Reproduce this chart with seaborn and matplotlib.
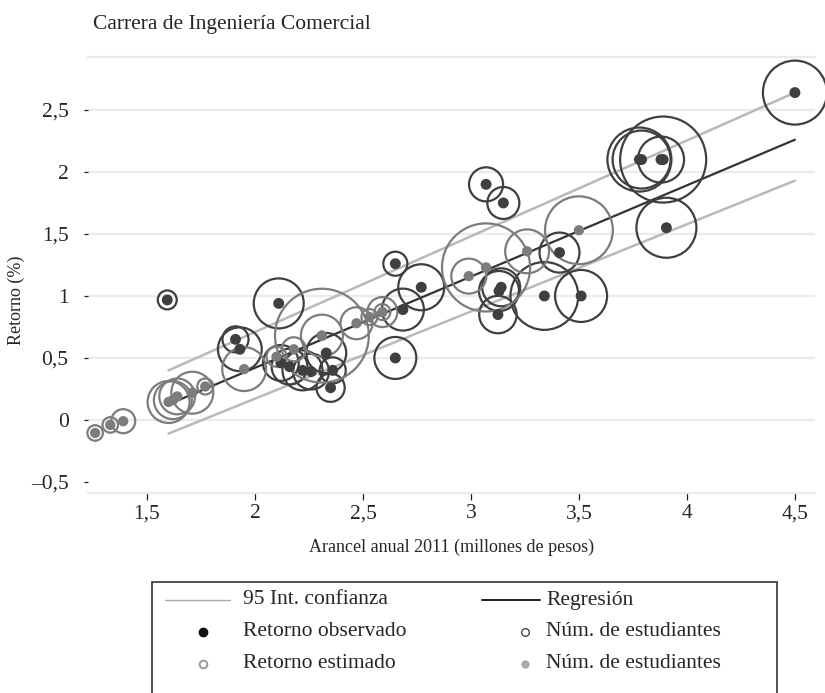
import numpy as np
import pandas as pd
import seaborn as sns
import matplotlib.pyplot as plt
from matplotlib.lines import Line2D
from matplotlib.patches import Rectangle

# Retorno observado (punto oscuro + circulo segun numero de estudiantes)
obs_arancel = [1.594, 1.91, 1.93, 2.11, 2.12, 2.16, 2.22, 2.26, 2.33, 2.36, 2.35,
               2.65, 2.65, 2.685, 2.77, 3.07, 3.15, 3.13, 3.14, 3.125, 3.34, 3.41,
               3.51, 3.78, 3.79, 3.88, 3.89, 3.905, 4.5]
obs_retorno = [0.968, 0.65, 0.57, 0.94, 0.46, 0.43, 0.40, 0.39, 0.54, 0.40, 0.26,
               1.26, 0.50, 0.89, 1.07, 1.90, 1.75, 1.04, 1.07, 0.85, 1.00, 1.35,
               1.00, 2.10, 2.10, 2.10, 2.10, 1.55, 2.64]
obs_estudiantes = [90, 170, 480, 625, 320, 320, 400, 320, 400, 170, 200,
                   145, 440, 440, 530, 290, 256, 400, 360, 350, 1150, 400,
                   676, 1024, 840, 530, 1850, 900, 1024]

# Retorno estimado (sobre la recta de regresion)
est_arancel = [1.26, 1.33, 1.39, 1.60, 1.62, 1.64, 1.71, 1.77, 1.95, 2.10, 2.18,
               2.31, 2.31, 2.47, 2.53, 2.59, 2.59, 2.99, 3.07, 3.26, 3.50]
est_retorno = [-0.105, -0.04, -0.01, 0.145, 0.16, 0.19, 0.22, 0.27, 0.41, 0.51, 0.57,
               0.68, 0.68, 0.78, 0.83, 0.87, 0.87, 1.16, 1.23, 1.36, 1.53]
est_estudiantes = [60, 60, 144, 440, 360, 320, 440, 64, 480, 100, 144,
                   2200, 440, 256, 64, 225, 64, 306, 1940, 480, 1150]

# Recta de regresion e intervalo de confianza al 95%
reg_x = [1.6, 4.5]
reg_y = [0.126, 2.26]
ic_x = [1.6, 4.5]
ic_sup = [0.40, 2.64]
ic_inf = [-0.11, 1.93]

y_ticks = [-0.5, 0, 0.5, 1, 1.5, 2, 2.5]
y_labels = ["\u20130,5", "0", "0,5", "1", "1,5", "2", "2,5"]
x_ticks = [1.5, 2, 2.5, 3, 3.5, 4, 4.5]
x_labels = ["1,5", "2", "2,5", "3", "3,5", "4", "4,5"]
leyenda = ["95 Int. confianza", "Regresión", "Retorno observado",
           "Núm. de estudiantes", "Retorno estimado", "Núm. de estudiantes"]

obs = pd.DataFrame({"arancel": obs_arancel, "retorno": obs_retorno, "est": obs_estudiantes})
est = pd.DataFrame({"arancel": est_arancel, "retorno": est_retorno, "est": est_estudiantes})

sns.set_style("white")
plt.rcParams["font.family"] = ["Liberation Serif", "DejaVu Serif"]

W, H = 825, 693
fig = plt.figure(figsize=(W / 100, H / 100), dpi=100)
ax = fig.add_axes([88 / W, 1 - 493 / H, (815 - 88) / W, (493 - 57) / H])

oscuro = "#3f3f3f"
gris = "#7c7c7c"
gris_ic = "#b9b9b9"
rejilla = "#ebebeb"
fs_grande = 15.5
fs_eje = 13

for yv in y_ticks[1:]:
    ax.axhline(yv, color=rejilla, lw=1.6, zorder=0)

# escala de area: area del circulo proporcional al numero de estudiantes
max_est = 2500
k = (2 * 0.72) ** 2

ax.plot(ic_x, ic_sup, color=gris_ic, lw=1.8, zorder=1)
ax.plot(ic_x, ic_inf, color=gris_ic, lw=1.8, zorder=1)
sns.lineplot(x=reg_x, y=reg_y, color="#333333", lw=1.6, ax=ax, zorder=2)

sns.scatterplot(data=obs, x="arancel", y="retorno", size="est", sizes=(0, k * max_est),
                size_norm=(0, max_est), facecolor="none", edgecolor=oscuro,
                linewidth=1.6, legend=False, ax=ax, zorder=3, clip_on=False)
sns.scatterplot(data=est, x="arancel", y="retorno", size="est", sizes=(0, k * max_est),
                size_norm=(0, max_est), facecolor="none", edgecolor=gris,
                linewidth=1.6, legend=False, ax=ax, zorder=3, clip_on=False)
sns.scatterplot(data=obs, x="arancel", y="retorno", s=62, color=oscuro,
                edgecolor="none", legend=False, ax=ax, zorder=4)
sns.scatterplot(data=est, x="arancel", y="retorno", s=55, color=gris,
                edgecolor="none", legend=False, ax=ax, zorder=4)

ax.set_xlim(1.227, 4.593)
ax.set_ylim(-0.589, 2.927)
ax.set_xticks(x_ticks)
ax.set_xticklabels(x_labels, fontsize=fs_grande)
ax.set_yticks(y_ticks)
ax.set_yticklabels(y_labels, fontsize=fs_grande)
ax.tick_params(axis="x", direction="out", length=5, width=0.9, color="#222222", pad=3, bottom=True)
ax.tick_params(axis="y", direction="out", length=3, width=0.9, color="#222222", pad=11, left=True)
ax.set_xlabel("")
ax.set_ylabel("")
for lado in ["left", "right"]:
    ax.spines[lado].set_visible(False)
for lado in ["top", "bottom"]:
    ax.spines[lado].set_color(rejilla)
    ax.spines[lado].set_linewidth(1.6)

def fx(px):
    return px / W

def fy(py):
    return 1 - py / H

fig.text(fx(93), fy(24), "Carrera de Ingeniería Comercial", fontsize=fs_grande, ha="left", va="center")
fig.text(fx(452), fy(547), "Arancel anual 2011 (millones de pesos)", fontsize=fs_eje,
         ha="center", va="center")
fig.text(fx(16), fy(300), "Retorno (%)", fontsize=fs_eje, rotation=90, ha="center", va="center")

# leyenda dibujada a mano
fig.add_artist(Rectangle((fx(152), fy(705)), fx(777) - fx(152), fy(582) - fy(705),
                         transform=fig.transFigure, fill=False, edgecolor="#333333", lw=1.2))
filas = [fy(600), fy(632), fy(664)]
fig.add_artist(Line2D([fx(165), fx(230)], [filas[0]] * 2, transform=fig.transFigure,
                      color="#a8a8a8", lw=1.0))
fig.add_artist(Line2D([fx(482), fx(540)], [filas[0]] * 2, transform=fig.transFigure,
                      color="#1e1e1e", lw=1.4))
fig.add_artist(Line2D([fx(203)], [filas[1]], transform=fig.transFigure, marker="o",
                      markersize=6, color="#111111", lw=0))
fig.add_artist(Line2D([fx(525)], [filas[1]], transform=fig.transFigure, marker="o",
                      markersize=5.5, markerfacecolor="none", markeredgecolor="#333333",
                      markeredgewidth=0.9, lw=0))
fig.add_artist(Line2D([fx(203)], [filas[2]], transform=fig.transFigure, marker="o",
                      markersize=5.5, markerfacecolor="none", markeredgecolor="#9a9a9a",
                      markeredgewidth=1.4, lw=0))
fig.add_artist(Line2D([fx(525)], [filas[2]], transform=fig.transFigure, marker="o",
                      markersize=5, color="#aaaaaa", lw=0))
pos_texto = [(243, 0), (546, 0), (243, 1), (546, 1), (243, 2), (546, 2)]
for texto, (px, fila) in zip(leyenda, pos_texto):
    fig.text(fx(px), filas[fila], texto, fontsize=fs_grande, ha="left", va="center")

fig.savefig("out.png", dpi=100)
